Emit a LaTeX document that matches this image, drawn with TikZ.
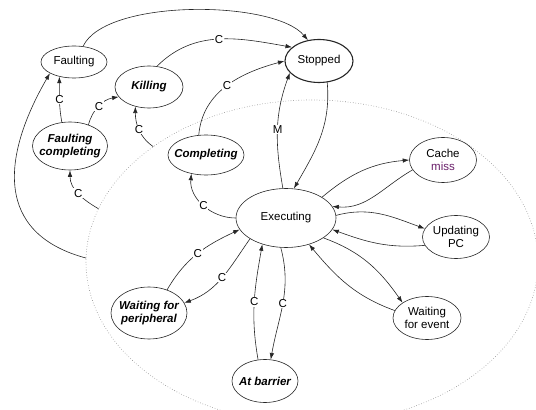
\documentclass[tikz,border=0pt]{standalone}
\usepackage{fontspec}
\setmainfont{Liberation Sans}
\usetikzlibrary{shapes.geometric, arrows.meta, positioning, calc}

\begin{document}
\begin{tikzpicture}[x=1pt, y=1pt,
  state/.style={ellipse, draw=black!85, line width=0.6pt, inner sep=-8pt, align=center,
    font=\fontsize{11.5}{13.5}\selectfont},
  special/.style={state, font=\fontsize{11.5}{13.5}\selectfont\bfseries\itshape},
  trans/.style={-{Latex[length=6.5pt, width=4.5pt]}, line width=0.6pt, draw=black!85},
  lbl/.style={fill=white, inner sep=0.6pt, font=\fontsize{11.5}{13.5}\selectfont}]
\useasboundingbox (0,0) rectangle (536,410);

% region of the executing states
\begin{scope}
\clip (0,0) rectangle (536,410);
\node[ellipse, draw=black!45, dotted, line width=0.6pt, minimum width=452, minimum height=324,
  inner sep=0pt, outer sep=0pt] (region) at (312,148) {};
\end{scope}

% states
\node[state, minimum width=66, minimum height=32] (faulting) at (74,348) {Faulting};
\node[special, minimum width=68, minimum height=42] (killing) at (149,323) {Killing};
\node[special, minimum width=75, minimum height=48] (fcompl) at (70,264) {Faulting\\completing};
\node[special, minimum width=76, minimum height=40] (compl) at (206,255) {Completing};
\node[state, line width=1.1pt, minimum width=68, minimum height=43] (stopped) at (319,349) {Stopped};
\node[state, minimum width=100, minimum height=59] (exec) at (286,192) {Executing};
\node[state, minimum width=67, minimum height=45] (cmiss) at (443,250) {Cache\\\textcolor[RGB]{105,30,105}{miss}};
\node[state, minimum width=67, minimum height=43] (updpc) at (456,173) {Updating\\PC};
\node[state, minimum width=68, minimum height=43] (wevent) at (427,92) {Waiting\\for event};
\node[special, minimum width=66, minimum height=43] (barrier) at (265,29) {At barrier};
\node[special, minimum width=76, minimum height=52] (wperiph) at (149,97) {Waiting for\\peripheral};

% to stopped
\draw[trans] (faulting.60) to[out=65, in=130, looseness=0.6] (stopped.118);
\draw[trans] (killing.69) to[out=45, in=170] node[lbl] {C} (stopped.153);
\draw[trans] (compl.110) to[out=85, in=195] node[lbl] {C} (stopped.180);
\draw[trans] (exec.96) to[out=100, in=250] node[lbl] {M} (stopped.202);
\draw[trans] (stopped.291) to[out=-85, in=60] (exec.75);

% faulting and killing
\draw[trans] (fcompl.109) to[out=100, in=-90] node[lbl] {C} (faulting.225);
\draw[trans] (fcompl.49) to[out=75, in=190] node[lbl] {C} (killing.198);
\draw[trans] (region.144) to[out=145, in=-90] node[lbl] {C} (killing.235);
\draw[trans] (region.166) to[out=150, in=-90] node[lbl] {C} (fcompl.270);
\draw[trans] (region.179) to[out=165, in=240, looseness=1.3] (faulting.205);

% around executing
\draw[trans] (exec.180) to[out=180, in=-95] node[lbl] {C} (compl.232);
\draw[trans] (wperiph.52) to[out=60, in=205] node[lbl] {C} (exec.194);
\draw[trans] (exec.210) to[out=235, in=20] node[lbl] {C} (wperiph.16);
\draw[trans] (barrier.108) to[out=100, in=-100] node[lbl] {C} (exec.228);
\draw[trans] (exec.260) to[out=-75, in=80] node[lbl] {C} (barrier.75);
\draw[trans] (exec.30) to[out=40, in=185] (cmiss.180);
\draw[trans] (cmiss.198) to[out=210, in=-5] (exec.14);
\draw[trans] (exec.3) to[out=15, in=160] (updpc.165);
\draw[trans] (updpc.195) to[out=185, in=-20] (exec.346);
\draw[trans] (exec.332) to[out=-20, in=125] (wevent.148);
\draw[trans] (wevent.167) to[out=160, in=-50] (exec.311);
\end{tikzpicture}
\end{document}
